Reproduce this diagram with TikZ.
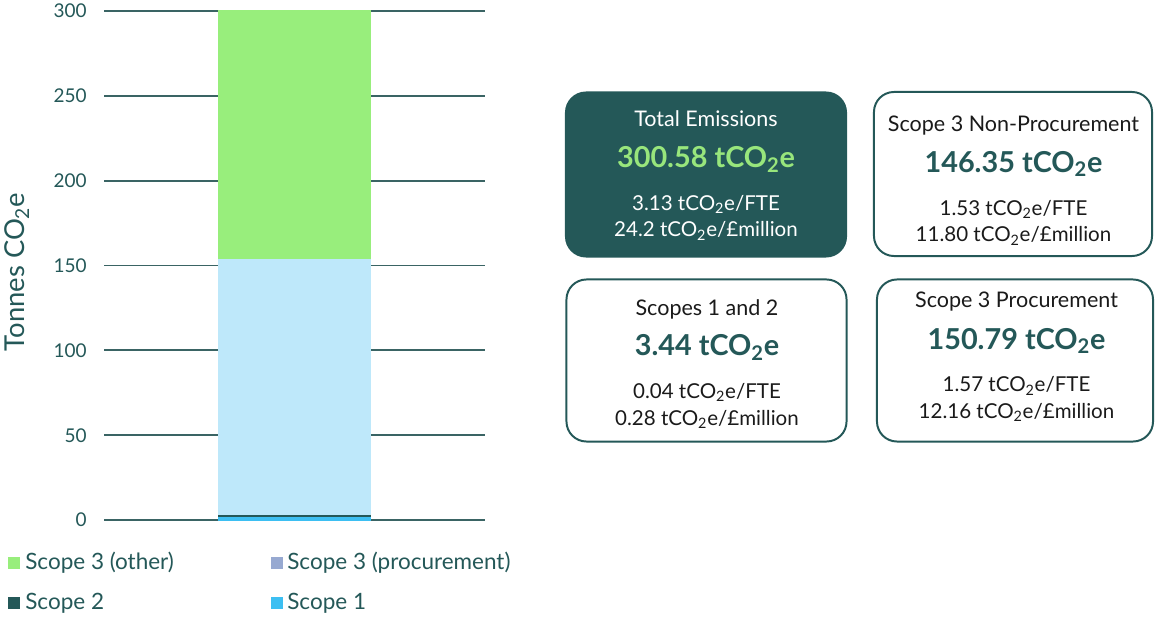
\documentclass[tikz,border=0pt]{standalone}
\usepackage{fontspec}
\setmainfont{Lato}
\usetikzlibrary{positioning}

\definecolor{darkteal}{HTML}{245858}
\definecolor{gridteal}{HTML}{3A6464}
\definecolor{othergreen}{HTML}{98EE7C}
\definecolor{procblue}{HTML}{BEE8FA}
\definecolor{scopeblue}{HTML}{3DBFF2}
\definecolor{proclavender}{HTML}{97A9D1}
\definecolor{valuegreen}{HTML}{98E67C}
\definecolor{inkblack}{HTML}{1A1A1A}

\tikzset{
  gridline/.style={draw=gridteal, line width=1.4pt},
  ticklabel/.style={anchor=east, inner sep=0pt, text=darkteal, font=\fontsize{13.5}{16}\selectfont},
  statbox/.style={draw=darkteal, line width=1.4pt, rounded corners=0.5cm, minimum width=7cm, minimum height=4.1cm},
  darkbox/.style={statbox, fill=darkteal},
  boxtitle/.style={anchor=base, inner sep=0pt, text=inkblack, font=\fontsize{15.3}{18}\selectfont},
  boxline/.style={anchor=base, inner sep=0pt, text=inkblack, font=\fontsize{14.6}{17}\selectfont},
  boxvalue/.style={anchor=base, inner sep=0pt, text=darkteal, font=\fontsize{20.5}{24}\selectfont\bfseries},
  legendkey/.style={minimum size=0.3cm, inner sep=0pt},
  legendtext/.style={anchor=west, inner sep=0pt, text=darkteal, font=\fontsize{16}{19}\selectfont}
}

\newcommand{\tco}{tCO\textsubscript{2}e}

\begin{document}
\begin{tikzpicture}[x=0.025cm, y=-0.025cm]
\useasboundingbox (0,0) rectangle (1155,617);

% Gridlines and tick labels (0 at y=520, 300 at y=11)
\draw[gridline] (104, 11.0) -- (485, 11.0);
\node[ticklabel] (t300) at (87, 11.0) {300};
\draw[gridline] (104, 95.8) -- (485, 95.8);
\node[ticklabel] (t250) at (87, 95.8) {250};
\draw[gridline] (104, 180.7) -- (485, 180.7);
\node[ticklabel] (t200) at (87, 180.7) {200};
\draw[gridline] (104, 265.5) -- (485, 265.5);
\node[ticklabel] (t150) at (87, 265.5) {150};
\draw[gridline] (104, 350.3) -- (485, 350.3);
\node[ticklabel] (t100) at (87, 350.3) {100};
\draw[gridline] (104, 435.2) -- (485, 435.2);
\node[ticklabel] (t50) at (87, 435.2) {50};
\draw[gridline] (104, 520.0) -- (485, 520.0);
\node[ticklabel] (t0) at (87, 520.0) {0};

% Stacked bar
\fill[othergreen] (218, 10.0) rectangle (371, 258.5);
\fill[procblue] (218, 258.5) rectangle (371, 514.5);
\fill[darkteal] (218, 514.5) rectangle (371, 516.8);
\fill[scopeblue] (218, 516.8) rectangle (371, 521.0);

% Axis title
\node[rotate=90, inner sep=0pt, text=darkteal, font=\fontsize{19.5}{22}\selectfont] (ytitle) at (17, 272) {Tonnes CO\textsubscript{2}e};

% Legend
\node[legendkey, fill=othergreen] (kother) at (14, 563) {};
\node[legendtext] (lother) at (25, 563) {Scope 3 (other)};
\node[legendkey, fill=proclavender] (kproc) at (277, 563) {};
\node[legendtext] (lproc) at (287, 563) {Scope 3 (procurement)};
\node[legendkey, fill=darkteal] (kscopetwo) at (14, 603) {};
\node[legendtext] (lscopetwo) at (25, 603) {Scope 2};
\node[legendkey, fill=scopeblue] (kscopeone) at (277, 603) {};
\node[legendtext] (lscopeone) at (287, 603) {Scope 1};

% Summary boxes
\node[darkbox] (total) at (706, 174.5) {};
\node[boxtitle, text=white] (totaltitle) at (706, 126.7) {Total Emissions};
\node[boxvalue, text=valuegreen] (totalval) at (706, 168) {300.58 \tco};
\node[boxline, text=white] (totalfte) at (706, 210) {3.13 \tco/FTE};
\node[boxline, text=white] (totalmil) at (706, 236.7) {24.2 \tco/£million};

\node[statbox, minimum width=6.95cm] (nonproc) at (1013, 174) {};
\node[boxtitle] (nonproctitle) at (1013.5, 131.7) {Scope 3 Non-Procurement};
\node[boxvalue] (nonprocval) at (1013.5, 172) {146.35 \tco};
\node[boxline] (nonprocfte) at (1013.5, 215) {1.53 \tco/FTE};
\node[boxline] (nonprocmil) at (1013.5, 241.7) {11.80 \tco/£million};

\node[statbox, minimum height=4.05cm] (scopes) at (706.5, 360.5) {};
\node[boxtitle] (scopestitle) at (707, 315) {Scopes 1 and 2};
\node[boxvalue] (scopesval) at (707, 355.7) {3.44 \tco};
\node[boxline] (scopesfte) at (707, 398.3) {0.04 \tco/FTE};
\node[boxline] (scopesmil) at (707, 425) {0.28 \tco/£million};

\node[statbox, minimum width=6.9cm, minimum height=4.05cm] (proc) at (1015, 360.5) {};
\node[boxtitle] (proctitle) at (1016.5, 307.3) {Scope 3 Procurement};
\node[boxvalue] (procval) at (1016.5, 349) {150.79 \tco};
\node[boxline] (procfte) at (1016.5, 391.7) {1.57 \tco/FTE};
\node[boxline] (procmil) at (1016.5, 418.3) {12.16 \tco/£million};
\end{tikzpicture}
\end{document}
